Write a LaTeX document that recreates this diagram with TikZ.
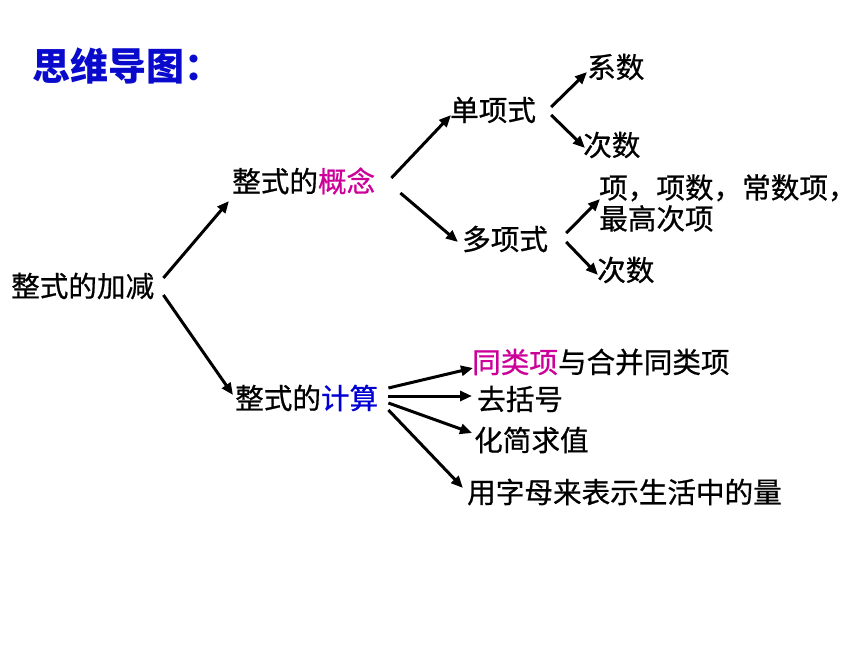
\documentclass[tikz,border=0pt]{standalone}
\usepackage{fontspec}
\newfontfamily\cjk[FakeBold=0.7]{Noto Sans CJK SC}
\newfontfamily\cjktitle{Noto Sans CJK SC}
\usetikzlibrary{arrows.meta}
\definecolor{titleblue}{RGB}{10,10,205}
\definecolor{keypink}{RGB}{204,0,153}
\definecolor{keyblue}{RGB}{0,0,210}
\tikzset{
  item/.style={anchor=west, inner sep=0pt, font=\cjk\fontsize{28.6}{31}\selectfont},
  arr/.style={-{Triangle[length=12pt,width=10pt]}, line width=3pt},
}
\begin{document}
\begin{tikzpicture}[x=1pt,y=-1pt]
  \useasboundingbox (0,0) rectangle (860,645);
  \node[item, font=\cjktitle\bfseries\fontsize{38}{40}\selectfont, text=titleblue] (title) at (32,66) {思维导图：};

  \node[item] (jj) at (11,286) {整式的加减};
  \node[item] (gn) at (232,181) {整式的\textcolor{keypink}{概念}};
  \node[item] (js) at (235,398) {整式的\textcolor{keyblue}{计算}};

  \node[item] (dx) at (450,110) {单项式};
  \node[item] (dxs) at (462,239) {多项式};
  \node[item] (xs) at (587,67) {系数};
  \node[item] (cs1) at (583,145) {次数};
  \node[item, align=left] (xm) at (599,203) {项，项数，常数项，\\最高次项};
  \node[item] (cs2) at (597,270) {次数};

  \node[item] (tl) at (472,362) {\textcolor{keypink}{同类项}与合并同类项};
  \node[item] (kh) at (477,399) {去括号};
  \node[item] (hj) at (474,440) {化简求值};
  \node[item] (yz) at (467,492) {用字母来表示生活中的量};

  % first level
  \draw[arr] ([shift={(9,-8)}]jj.east) -- ([shift={(-3,20)}]gn.west);
  \draw[arr] ([shift={(9,9)}]jj.east) -- ([shift={(-2,-3)}]js.west);

  % concept branch
  \draw[arr] ([shift={(16,-3)}]gn.east) -- ([shift={(1,5)}]dx.west);
  \draw[arr] ([shift={(25,12)}]gn.east) -- ([shift={(-4,3)}]dxs.west);
  \draw[arr] ([shift={(15,-3)}]dx.east) -- ([shift={(0,5)}]xs.west);
  \draw[arr] ([shift={(15,5)}]dx.east) -- ([shift={(2,3)}]cs1.west);
  \draw[arr] ([shift={(18,-6)}]dxs.east) -- ([shift={(1,-4)}]xm.west);
  \draw[arr] ([shift={(18,3)}]dxs.east) -- ([shift={(1,5)}]cs2.west);

  % calculation branch
  \draw[arr] ([shift={(10,-10)}]js.east) -- ([shift={(1,6)}]tl.west);
  \draw[arr] ([shift={(10,-2)}]js.east) -- ([shift={(-5,-3)}]kh.west);
  \draw[arr] ([shift={(10,5)}]js.east) -- ([shift={(-2,-7)}]hj.west);
  \draw[arr] ([shift={(10,12)}]js.east) -- ([shift={(-4,-4)}]yz.west);
\end{tikzpicture}
\end{document}
